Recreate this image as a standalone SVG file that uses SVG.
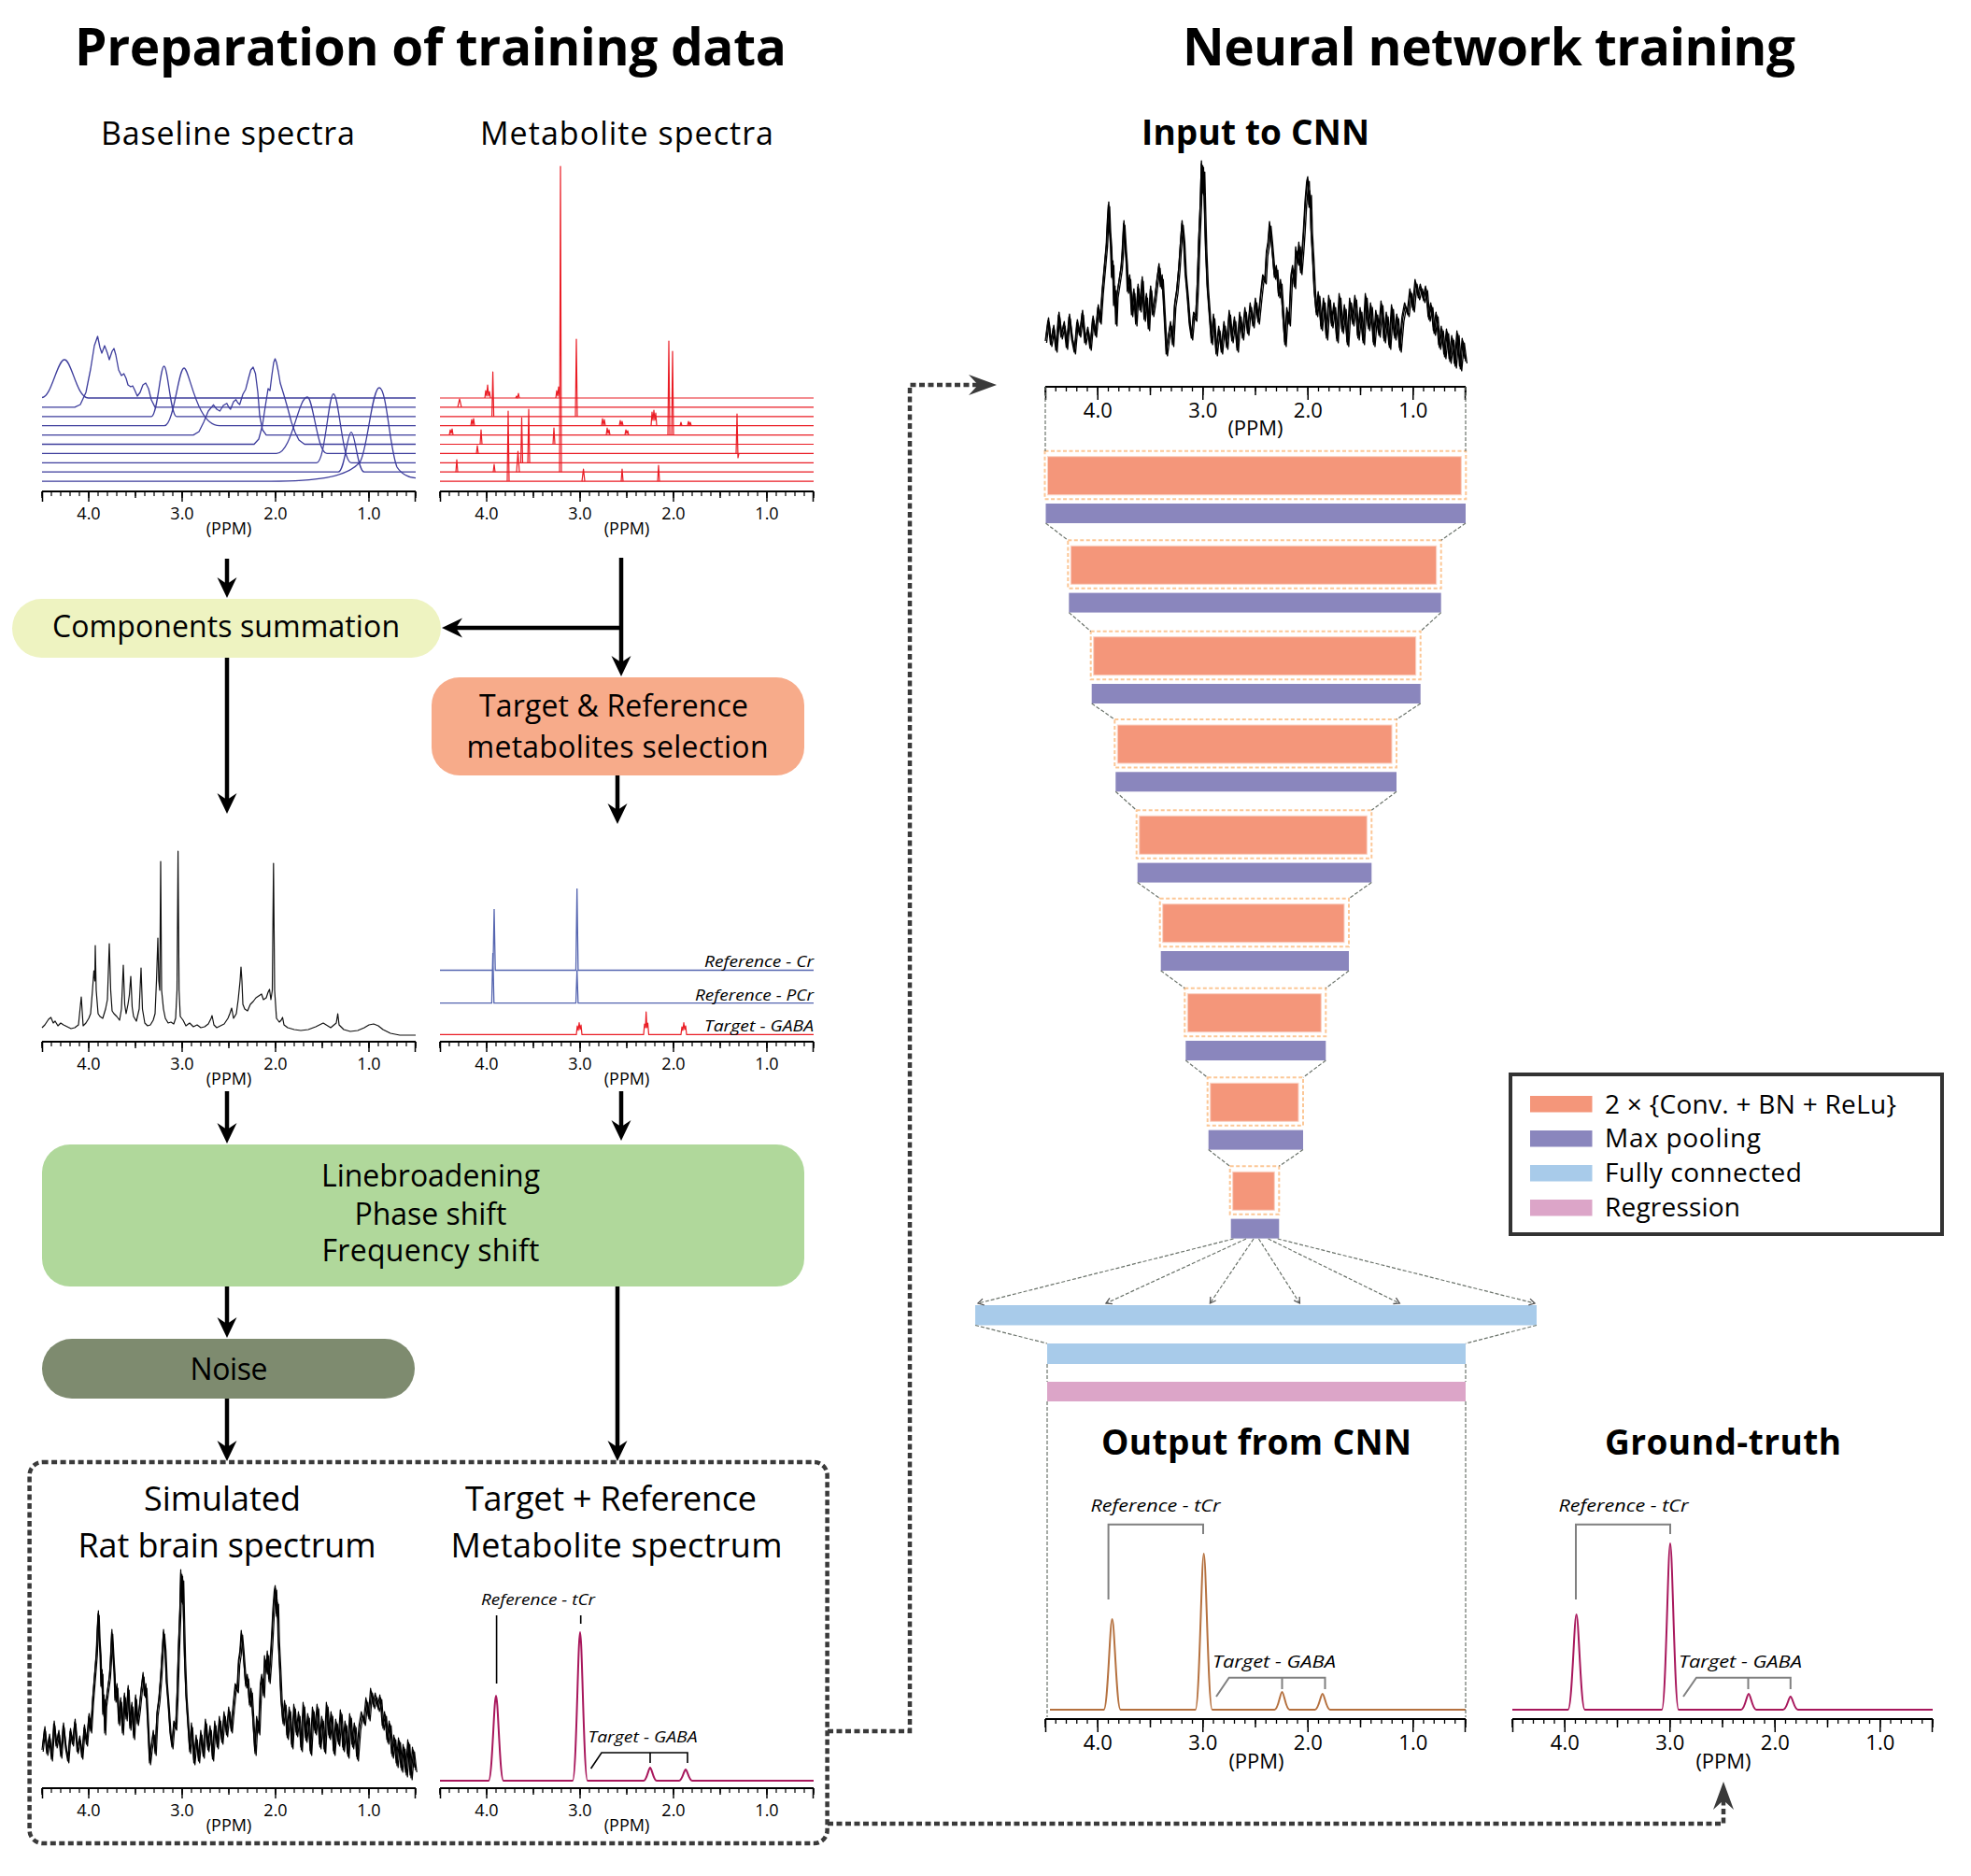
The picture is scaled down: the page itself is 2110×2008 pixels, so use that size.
<svg xmlns="http://www.w3.org/2000/svg" xmlns:xlink="http://www.w3.org/1999/xlink" width="2110" height="2008" viewBox="0 0 2110 2008">
<style>
text{font-family:"Open Sans","Liberation Sans",Arial,sans-serif;fill:#000}
.h1{font-size:55px;font-weight:700}
.h2{font-size:34px}
.h3{font-size:37px;font-weight:700;text-anchor:middle}
.bx{font-size:32px;text-anchor:middle}
.big{font-size:36px;text-anchor:middle}
.ax{font-size:18px;text-anchor:middle}
.axr{font-size:22px;text-anchor:middle}
.it{font-style:italic;font-size:17px}
.itr{font-style:italic;font-size:19px;text-anchor:middle}
.lg{font-size:28px}
.blue{fill:none;stroke:#3d3d9c;stroke-width:1.3;stroke-linejoin:round}
.red{fill:none;stroke:#ea1d25;stroke-width:1.2;stroke-linejoin:round}
.arr{fill:none;stroke:#000;stroke-width:4.5;marker-end:url(#ah)}
.dot{fill:none;stroke:#3a3a3a;stroke-width:4.5;stroke-dasharray:6 3.5}
.fan{fill:none;stroke:#6b736b;stroke-width:1.2;stroke-dasharray:4 2}
.conv{fill:#f4967a;stroke:#fbd3c4;stroke-width:1}
.cout{fill:none;stroke:#fcc796;stroke-width:2;stroke-dasharray:4 2.5}
.pool{fill:#8a86bd}
.brk{fill:none;stroke:#808080;stroke-width:2}
</style>
<defs>
<marker id="ah" viewBox="-23 -12 24 24" markerWidth="24" markerHeight="24" refX="-12" refY="0" orient="auto" markerUnits="userSpaceOnUse"><path d="M0,0 L-22,-10.5 L-15,0 L-22,10.5 Z" fill="#000"/></marker>
<marker id="ad" viewBox="-31 -12 32 24" markerWidth="32" markerHeight="24" refX="-18" refY="0" orient="auto" markerUnits="userSpaceOnUse"><path d="M0,0 L-30,-11 L-20,0 L-30,11 Z" fill="#3a3a3a"/></marker>
<marker id="af" viewBox="-8 -5 10 10" markerWidth="10" markerHeight="10" refX="0" refY="0" orient="auto" markerUnits="userSpaceOnUse"><path d="M-6,-3.5 L0,0 L-6,3.5" fill="none" stroke="#555" stroke-width="1.3"/></marker>
<g id="tkL" stroke="#000" fill="none">
<path d="M0,0 H400" stroke-width="2"/>
<path d="M-0.6,2.5 H401" stroke-width="5" stroke-dasharray="1.2 8.8"/>
<path d="M-0.7,3.5 H401" stroke-width="7" stroke-dasharray="1.4 48.6"/>
<path d="M49.3,5.5 H400" stroke-width="11" stroke-dasharray="1.4 98.6"/>
<path d="M0.5,0 V11 M399.5,0 V11" stroke-width="1.5"/>
</g>
<g id="tkR" stroke="#000" fill="none">
<path d="M0,0 H450" stroke-width="2.2"/>
<path d="M-0.65,2.5 H451" stroke-width="5" stroke-dasharray="1.3 9.95"/>
<path d="M-0.75,4.5 H451" stroke-width="9" stroke-dasharray="1.5 54.75"/>
<path d="M55.5,7 H450" stroke-width="14" stroke-dasharray="1.5 111"/>
<path d="M0.5,0 V14 M449.5,0 V14" stroke-width="1.5"/>
</g>
<path id="noisy" fill="none" stroke="#000" stroke-width="1.2" stroke-linejoin="round" d="M0,8 L2.5,-14 L5,12 L7.5,-6 L10,18 L12.5,-20 L15,4 L17.5,-10 L20,15 L22.5,-18 L25,6 L27.5,20 L30,-12 L32.5,2 L35,-22 L37.5,10 L40,-4 L42.5,16 L45,-16 L47.5,2 L50,-28 L52,-12 L54,-45 L56,-70 L58,-95 L59,-120 L60,-138 L61,-110 L62,-95 L63,-60 L64,-75 L65,-30 L66,-48 L67,-10 L68,-40 L70,-55 L72,-70 L73,-85 L74.5,-118 L76,-90 L77,-75 L78,-45 L80,-60 L82,-20 L84,-45 L86,-10 L88,-50 L90,-25 L92,-58 L94,-15 L96,-40 L98,-5 L100,-48 L102,-20 L104,-35 L106,-55 L108,-72 L109.5,-50 L111,-60 L113,-20 L115,22 L117,5 L119,-10 L121,12 L123,-30 L125,-45 L127,-70 L128.5,-95 L130,-118 L131.5,-100 L133,-65 L135,-40 L137,-10 L139,5 L141,-20 L143,-15 L144.5,-50 L146,-100 L147.5,-140 L148.5,-182 L149.5,-150 L150.5,-175 L151.5,-130 L152.5,-90 L154,-50 L156,-20 L158,10 L160,-18 L162.5,22 L165,-5 L167.5,20 L170,-10 L172.5,15 L175,-22 L177.5,8 L180,-15 L182.5,18 L185,-20 L187.5,5 L190,-25 L192.5,0 L195,-30 L197.5,-8 L200,-35 L202.5,-12 L205,-40 L207,-60 L209,-55 L210.5,-85 L212,-95 L213.5,-117 L215,-100 L216.5,-80 L218,-60 L220,-70 L222,-40 L224,-55 L226,-20 L228,12 L230,-25 L232,-10 L234,-60 L235.5,-70 L237,-50 L238.5,-90 L240,-75 L241.5,-95 L243,-65 L244.5,-85 L246,-110 L247.5,-140 L249,-160 L250,-165 L251,-135 L252,-150 L253,-110 L254.5,-80 L256,-45 L258,-20 L260,-42 L262.5,-5 L265,-35 L267.5,5 L270,-38 L272.5,-8 L275,-30 L277.5,8 L280,-40 L282.5,-2 L285,-28 L287.5,12 L290,-35 L292.5,-10 L295,-38 L297.5,5 L300,-25 L302.5,10 L305,-40 L307.5,-5 L310,-30 L312.5,12 L315,-22 L317.5,2 L320,-32 L322.5,8 L325,-20 L327.5,15 L330,-28 L332.5,5 L335,-18 L337.5,18 L340,-15 L342.5,-30 L345,-20 L347.5,-45 L350,-25 L352.5,-55 L355,-38 L357.5,-50 L360,-35 L362.5,-48 L365,-15 L367.5,-30 L370,0 L372.5,-20 L375,15 L377.5,-5 L380,25 L382.5,-2 L385,30 L387.5,5 L390,35 L392.5,0 L395,38 L397.5,8 L400,30"/>
</defs>
<rect x="0" y="0" width="2110" height="2008" fill="#fff"/>

<g id="titles">
<text class="h1" x="80" y="70" textLength="762">Preparation of training data</text>
<text class="h1" x="1266" y="70" textLength="656">Neural network training</text>
</g>

<g id="baseline-spectra">
<text class="h2" x="108" y="155" textLength="272">Baseline spectra</text>
<path class="blue" d="M45,425.5 C55,425.5 61.3,385 69,385 C76.7,385 82,426 94.5,426 H445"/>
<path class="blue" d="M45,435.9 H80 L86,433 L92,420 L97,395 L101,370 L104.5,360 L107,372 L109,378 L112,370 L115,378 L117,385 L120,376 L122,373 L124,380 L127,396 L130,402 L132.6,400 L135,405 L137,412 L140,414 L142,413 L144,417 L147,424 L150,420 L153,412 L156,410 L159,416 L162,428 L166,435.9 H445"/>
<path class="blue" d="M45,445.8 H162 C168.5,445.8 171.5,392 175.6,392 C179.7,392 182.7,445.8 189,445.8 H445"/>
<path class="blue" d="M45,455.7 H176 C186,455.7 191,394 197,394 C203,394 210,455.7 235,455.7 H445"/>
<path class="blue" d="M45,465.6 H207 L213,462 L218,452 L223,440 L228.5,433.3 L232,438 L235.4,440 L239,434 L242.8,431.7 L245,436 L246.8,438 L250,430 L252.6,427.7 L254.5,431 L256.6,433 L260,422 L263,416.7 L266,405 L268.5,396 L271,393 L273.5,400 L276,420 L278,445 L281,460 L285,465.6 H445"/>
<path class="blue" d="M45,475.5 H272 L277,470 L281,455 L284,435 L287,416 L289,418 L291,402 L293,388 L294.5,384 L296,388 L298,398 L300,410 L304,423 L308,437 L312,452 L316,463 L320,471 L326,475.5 H445"/>
<path class="blue" d="M45,485.4 H296 C312.5,485.4 319,425 329,425 C335.3,425 339.5,485.4 350,485.4 H445"/>
<path class="blue" d="M45,495.3 H339 C348,495.3 351.6,421.7 357,421.7 C362.7,421.7 366.5,495.3 376,495.3 H445"/>
<path class="blue" d="M45,505.2 H362 C369,505.2 371.8,462.7 376,462.7 C380.2,462.7 383,505.2 390,505.2 H445"/>
<path class="blue" d="M45,515.1 H290 C335,515.1 370,512 385,495 C393,486 398,415 406,415 C414,415 417,480 425,500 C430,508 438,511 445,511.7"/>
<use href="#tkL" x="45" y="526"/>
<text class="ax" x="95" y="556">4.0</text><text class="ax" x="195" y="556">3.0</text><text class="ax" x="295" y="556">2.0</text><text class="ax" x="395" y="556">1.0</text>
<text class="ax" x="245" y="572" font-size="17">(PPM)</text>
</g>

<g id="metabolite-spectra">
<text class="h2" x="514" y="155" textLength="314">Metabolite spectra</text>
<path class="red" d="M471,426 H871 M471,435.9 H871 M471,445.8 H871 M471,455.7 H871 M471,465.6 H871 M471,475.5 H871 M471,485.4 H871 M471,495.3 H871 M471,505.2 H871 M471,515.1 H871"/>
<path class="red" d="M519,426 L520,418 L521,424 L522,412 L523,424 L524,419 L525,426 M552,426 L553,424 L554,426 L555,421 L556,426 M595,426 L596,418 L597,424 L598,414 L599,426
M490,435.9 L492,427 L494,435.9
M526.6,445.8 L527.6,398 L528.6,445.8 M616,445.8 L617,363 L618,445.8
M504,455.7 L505,449 L506,455 L507,448 L508,455.7 M644,455.7 L645,448 L646,455 L647,449 L648,455.7 M663,455.7 L664,450 L665,455 L666,451 L667,455.7 M697,455.7 L698,441 L699,450 L700,439 L701,450 L702,442 L703,455.7 M728,455.7 L729,452 L730,455.7 M736,455.7 L737,451 L738,455 L739,452 L740,455.7
M481,465.6 L482,460 L483,464 L484,459 L485,465.6 M649,465.6 L650,458 L651,464 L652,460 L653,465.6 M669,465.6 L670,460 L671,464 L672,461 L673,465.6 M715,465.6 L716,365 L717,465.6 M719,465.6 L720,376 L721,465.6
M514,475.5 L515,460 L516,475.5 M592,475.5 L593,458 L594,475.5
M510,485.4 L511,477 L512,485.4 M788,485.4 L789,443 L790,490 L791,485.4
M557.5,495.3 L558.5,447 L559.5,495.3 M565,495.3 L566,438 L567,495.3
M599,505.2 L600,178 L601,505.2 M488,505.2 L489,492 L490,505.2 M528,505.2 L529,497 L530,505.2 M553,505.2 L554.5,483 L556,505.2
M543,515.1 L544,440 L545,515.1 M623,515.1 L624.6,502 L626,515.1 M665,515.1 L666,502 L667,515.1 M704,515.1 L705,498 L706,515.1"/>
<use href="#tkL" x="471" y="526"/>
<text class="ax" x="521" y="556">4.0</text><text class="ax" x="621" y="556">3.0</text><text class="ax" x="721" y="556">2.0</text><text class="ax" x="821" y="556">1.0</text>
<text class="ax" x="671" y="572" font-size="17">(PPM)</text>
</g>

<g id="components-summation">
<rect x="13" y="641" width="459" height="63" rx="31.5" fill="#eef3c1"/>
<text class="bx" x="242" y="682" textLength="372">Components summation</text>
</g>

<g id="target-reference-selection">
<rect x="462" y="725" width="399" height="105" rx="30" fill="#f7ab8a"/>
<text class="bx" x="657" y="767" textLength="288">Target &amp; Reference</text>
<text class="bx" x="661" y="811" textLength="323">metabolites selection</text>
</g>

<g id="summed-spectrum">
<polyline fill="none" stroke="#111" stroke-width="1.2" stroke-linejoin="round" points="45,1100 48,1097 50,1094 52,1091 54.5,1089 57,1095 59,1093 62,1098 65,1095 68,1097 72,1099 76,1101 80,1100 84,1097 87,1067 89,1098 92,1095 95,1090 97,1085 99,1060 100.5,1039 101.5,1050 102,1012 103,1060 105,1085 107,1088 110,1090 113,1080 115,1070 117,1010 118.5,1060 120,1082 122,1085 125,1088 128,1092 130,1080 132,1033 133.5,1075 135,1085 137,1075 138.5,1065 140,1045 141.5,1078 143,1088 146,1093 149,1080 151,1036 152.5,1080 155,1095 158,1098 161,1097 164,1092 166,1085 167.5,1050 169,1004 170,1050 171,1060 172,922 173,1060 175,1080 177,1090 180,1095 183,1094 186,1096 188,1090 189.5,1060 190.6,911 191.7,1060 193,1088 196,1092 199,1098 203,1095 207,1099 211,1097 215,1100 219,1099 223,1096 226,1090 227,1087 229,1097 232,1100 236,1098 240,1096 244,1090 246,1085 248,1079 250,1090 253,1085 255,1070 257,1050 258,1035 259,1050 260,1075 262,1080 265,1082 268,1075 271,1072 274,1068 277,1066 280,1064 282,1070 285,1068 287,1062 288.5,1059 290,1070 291.5,1060 292.8,924 294,1060 296,1090 299,1094 301,1092 302.5,1089 304,1097 308,1100 315,1102 322,1103 330,1102 338,1099 346,1095 354,1100 360,1095 361.6,1085 363,1097 368,1102 375,1104 383,1103 390,1100 395,1097 400,1096 405,1098 410,1102 418,1106 428,1108 445,1108"/>
<use href="#tkL" x="45" y="1115"/>
<text class="ax" x="95" y="1145">4.0</text><text class="ax" x="195" y="1145">3.0</text><text class="ax" x="295" y="1145">2.0</text><text class="ax" x="395" y="1145">1.0</text>
<text class="ax" x="245" y="1161" font-size="17">(PPM)</text>
</g>

<g id="selected-metabolites">
<path fill="none" stroke="#5565b0" stroke-width="1.3" d="M471,1038.5 H527.8 L529,973 L530.2,1038.5 H616.5 L617.7,951 L618.9,1038.5 H871 M471,1073.7 H526.4 L527.6,1020 L528.8,1073.7 H616.5 L617.7,1038.5 L618.9,1073.7 H871"/>
<path class="red" d="M471,1107.4 H617 L618,1098 L619,1103 L620,1094.7 L621,1102 L622,1097 L623,1107.4 H689 L690,1096 L691,1100 L691.7,1083 L692.5,1100 L693.5,1095 L694.5,1107.4 H729 L730,1099 L731,1103 L732,1094.7 L733,1102 L734,1098 L735,1107.4 H871"/>
<text class="it" x="871" y="1035" text-anchor="end" textLength="117" lengthAdjust="spacingAndGlyphs">Reference - Cr</text>
<text class="it" x="871" y="1071" text-anchor="end" textLength="127" lengthAdjust="spacingAndGlyphs">Reference - PCr</text>
<text class="it" x="871" y="1104" text-anchor="end" textLength="117" lengthAdjust="spacingAndGlyphs">Target - GABA</text>
<use href="#tkL" x="471" y="1115"/>
<text class="ax" x="521" y="1145">4.0</text><text class="ax" x="621" y="1145">3.0</text><text class="ax" x="721" y="1145">2.0</text><text class="ax" x="821" y="1145">1.0</text>
<text class="ax" x="671" y="1161" font-size="17">(PPM)</text>
</g>

<g id="augmentation">
<rect x="45" y="1225" width="816" height="152" rx="30" fill="#b0d89b"/>
<text class="bx" x="461" y="1270" textLength="234">Linebroadening</text>
<text class="bx" x="461" y="1311" textLength="163">Phase shift</text>
<text class="bx" x="461" y="1350" textLength="233">Frequency shift</text>
</g>

<g id="noise">
<rect x="45" y="1433" width="399" height="64" rx="32" fill="#7e8b6f"/>
<text class="bx" x="245" y="1477" textLength="83">Noise</text>
</g>

<g id="training-pair">
<rect x="31.6" y="1565" width="854" height="408" rx="14" class="dot"/>
<text class="big" x="238" y="1617" textLength="168">Simulated</text>
<text class="big" x="243" y="1667" textLength="319">Rat brain spectrum</text>
<text class="big" x="654" y="1617" textLength="312">Target + Reference</text>
<text class="big" x="660" y="1667" textLength="355">Metabolite spectrum</text>
<use href="#noisy" transform="translate(45,1865)"/>
<use href="#noisy" transform="translate(46.2,1867)"/>
<use href="#noisy" transform="translate(45.6,1862) scale(0.996,1)"/>
<use href="#tkL" x="45" y="1914"/>
<text class="ax" x="95" y="1944">4.0</text><text class="ax" x="195" y="1944">3.0</text><text class="ax" x="295" y="1944">2.0</text><text class="ax" x="395" y="1944">1.0</text>
<text class="ax" x="245" y="1960" font-size="17">(PPM)</text>
<path fill="none" stroke="#a8175c" stroke-width="2" d="M471,1906 H523 C527,1906 528.8,1815 531,1815 C533.2,1815 535,1906 539,1906 H613 C617,1906 618.8,1747 621,1747 C623.2,1747 625,1906 629,1906 H689 C692.5,1906 694.3,1892 696,1892 C697.7,1892 699.5,1906 703,1906 H727 C730.5,1906 732.3,1894 734,1894 C735.7,1894 737.5,1906 741,1906 H871"/>
<text class="it" x="576" y="1718" text-anchor="middle" textLength="122" lengthAdjust="spacingAndGlyphs">Reference - tCr</text>
<path fill="none" stroke="#000" stroke-width="1.6" d="M531.6,1729 V1802 M621.7,1729 V1738 M632.6,1893 L644,1876 H736 V1887 M696,1876 V1887"/>
<text class="it" x="688" y="1865" text-anchor="middle" textLength="117" lengthAdjust="spacingAndGlyphs">Target - GABA</text>
<use href="#tkL" x="471" y="1914"/>
<text class="ax" x="521" y="1944">4.0</text><text class="ax" x="621" y="1944">3.0</text><text class="ax" x="721" y="1944">2.0</text><text class="ax" x="821" y="1944">1.0</text>
<text class="ax" x="671" y="1960" font-size="17">(PPM)</text>
</g>

<g id="input-to-cnn">
<text class="h3" x="1344" y="155" textLength="244">Input to CNN</text>
<use href="#noisy" transform="translate(1119,357) scale(1.125,1)"/>
<use href="#noisy" transform="translate(1120.4,359) scale(1.125,1)"/>
<use href="#noisy" transform="translate(1119.7,354) scale(1.121,1)"/>
<use href="#tkR" x="1119" y="414"/>
<text class="axr" x="1175.3" y="447">4.0</text><text class="axr" x="1287.8" y="447">3.0</text><text class="axr" x="1400.3" y="447">2.0</text><text class="axr" x="1512.8" y="447">1.0</text>
<text class="axr" x="1344" y="466" font-size="21">(PPM)</text>
</g>

<g id="cnn-layers">
<g id="block1"><rect class="cout" x="1118.5" y="482.7" width="450.8" height="51.5"/><rect class="conv" x="1121.5" y="488.7" width="442.8" height="41"/><rect class="pool" x="1119.5" y="539" width="449.5" height="21"/></g>
<g id="block2"><rect class="cout" x="1143.3" y="578.3" width="399.4" height="51.5"/><rect class="conv" x="1146.3" y="584.3" width="391.4" height="41"/><rect class="pool" x="1144.3" y="634.6" width="398.4" height="21"/></g>
<g id="block3"><rect class="cout" x="1167.7" y="675.7" width="353" height="51.5"/><rect class="conv" x="1170.7" y="681.7" width="345" height="41"/><rect class="pool" x="1168.7" y="732" width="352" height="21"/></g>
<g id="block4"><rect class="cout" x="1193.3" y="770" width="301.7" height="51.5"/><rect class="conv" x="1196.3" y="776" width="293.7" height="41"/><rect class="pool" x="1194.3" y="826.3" width="300.7" height="21"/></g>
<g id="block5"><rect class="cout" x="1216.7" y="867.3" width="251.6" height="51.5"/><rect class="conv" x="1219.7" y="873.3" width="243.6" height="41"/><rect class="pool" x="1217.7" y="923.6" width="250.6" height="21"/></g>
<g id="block6"><rect class="cout" x="1241.7" y="961.7" width="202.3" height="51.5"/><rect class="conv" x="1244.7" y="967.7" width="194.3" height="41"/><rect class="pool" x="1242.7" y="1018" width="201.3" height="21"/></g>
<g id="block7"><rect class="cout" x="1268.3" y="1057.7" width="151" height="51.5"/><rect class="conv" x="1271.3" y="1063.7" width="143" height="41"/><rect class="pool" x="1269.3" y="1114" width="150" height="21"/></g>
<g id="block8"><rect class="cout" x="1292.7" y="1153.3" width="102.3" height="51.5"/><rect class="conv" x="1295.7" y="1159.3" width="94.3" height="41"/><rect class="pool" x="1293.7" y="1209.6" width="101.3" height="21"/></g>
<g id="block9"><rect class="cout" x="1316.7" y="1248.3" width="52.6" height="51.5"/><rect class="conv" x="1319.7" y="1254.3" width="44.6" height="41"/><rect class="pool" x="1317.7" y="1304.6" width="51.6" height="21"/></g>
<g id="fc1"><rect x="1044" y="1397" width="601" height="21.5" fill="#a8cbea"/></g>
<g id="fc2"><rect x="1121" y="1438" width="448" height="22" fill="#a8cbea"/></g>
<g id="regression"><rect x="1121" y="1479" width="448" height="21" fill="#dca5c8"/></g>
</g>

<g id="legend">
<rect x="1617" y="1150" width="462" height="171" fill="#fff" stroke="#333" stroke-width="4"/>
<rect x="1638" y="1173" width="66.5" height="17.5" fill="#f4967a"/>
<rect x="1638" y="1210" width="66.5" height="17.5" fill="#8a86bd"/>
<rect x="1638" y="1247" width="66.5" height="17.5" fill="#a8cbea"/>
<rect x="1638" y="1284" width="66.5" height="17.5" fill="#dca5c8"/>
<text class="lg" x="1718" y="1192" textLength="312">2 × {Conv. + BN + ReLu}</text>
<text class="lg" x="1718" y="1228" textLength="167">Max pooling</text>
<text class="lg" x="1718" y="1265" textLength="211">Fully connected</text>
<text class="lg" x="1718" y="1302" textLength="145">Regression</text>
</g>

<g id="output-from-cnn">
<text class="h3" x="1345" y="1557" textLength="332">Output from CNN</text>
<path fill="none" stroke="#b5713f" stroke-width="2" d="M1124,1830 H1181.6 C1186,1830 1188.2,1733 1190.6,1733 C1193,1733 1195.2,1830 1199.6,1830 H1279.7 C1284,1830 1286.3,1663 1288.7,1663 C1291.1,1663 1293.4,1830 1297.7,1830 H1364.5 C1368.5,1830 1370.5,1811 1372.5,1811 C1374.5,1811 1376.5,1830 1380.5,1830 H1407.8 C1411.8,1830 1413.8,1813 1415.8,1813 C1417.8,1813 1419.8,1830 1423.8,1830 H1569"/>
<text class="itr" x="1237" y="1618" textLength="139" lengthAdjust="spacingAndGlyphs">Reference - tCr</text>
<path class="brk" d="M1186.6,1712 V1631.7 H1288 V1642"/>
<text class="itr" x="1364" y="1785" textLength="132" lengthAdjust="spacingAndGlyphs">Target - GABA</text>
<path class="brk" d="M1302,1816 L1315.7,1795.7 H1418.5 V1808 M1372.5,1795.7 V1808"/>
<use href="#tkR" x="1119" y="1840"/>
<text class="axr" x="1175.3" y="1873">4.0</text><text class="axr" x="1287.8" y="1873">3.0</text><text class="axr" x="1400.3" y="1873">2.0</text><text class="axr" x="1512.8" y="1873">1.0</text>
<text class="axr" x="1345" y="1893" font-size="21">(PPM)</text>
</g>

<g id="ground-truth">
<text class="h3" x="1844.5" y="1557" textLength="253">Ground-truth</text>
<path fill="none" stroke="#a8175c" stroke-width="2" d="M1619,1830 H1678.6 C1683,1830 1685.2,1728 1687.6,1728 C1690,1728 1692.2,1830 1696.6,1830 H1779 C1783.3,1830 1785.6,1652 1788,1652 C1790.4,1652 1792.7,1830 1797,1830 H1864 C1868,1830 1870,1813 1872,1813 C1874,1813 1876,1830 1880,1830 H1908.8 C1912.8,1830 1914.8,1816 1916.8,1816 C1918.8,1816 1920.8,1830 1924.8,1830 H2069"/>
<text class="itr" x="1738" y="1618" textLength="139" lengthAdjust="spacingAndGlyphs">Reference - tCr</text>
<path class="brk" d="M1687,1712 V1631.7 H1788 V1642"/>
<text class="itr" x="1863" y="1785" textLength="132" lengthAdjust="spacingAndGlyphs">Target - GABA</text>
<path class="brk" d="M1802,1816 L1816,1795.7 H1916.8 V1808 M1871.5,1795.7 V1808"/>
<use href="#tkR" x="1619" y="1840"/>
<text class="axr" x="1675.3" y="1873">4.0</text><text class="axr" x="1787.8" y="1873">3.0</text><text class="axr" x="1900.3" y="1873">2.0</text><text class="axr" x="2012.8" y="1873">1.0</text>
<text class="axr" x="1845" y="1893" font-size="21">(PPM)</text>
</g>

<g id="connectors">
<path class="arr" d="M243,598 V628"/>
<path class="arr" d="M665,597 V712"/>
<path class="arr" d="M665,672 H485"/>
<path class="arr" d="M243,704 V859"/>
<path class="arr" d="M661,830 V870"/>
<path class="arr" d="M243,1168 V1212"/>
<path class="arr" d="M665,1168 V1209"/>
<path class="arr" d="M243,1377 V1420"/>
<path class="arr" d="M661,1377 V1552"/>
<path class="arr" d="M243,1497 V1552"/>
<path class="dot" d="M886,1853 H974 V412 H1049" marker-end="url(#ad)"/>
<path class="dot" d="M886,1952 H1845 V1925" marker-end="url(#ad)"/>
<path class="fan" d="M1119,414 V483 M1569,414 V483"/>
<path class="fan" d="M1119.5,560 L1143.3,578.3 M1569,560 L1542.7,578.3 M1144.3,655.6 L1167.7,675.7 M1542.7,655.6 L1520.7,675.7 M1168.7,753 L1193.3,770 M1520.7,753 L1495,770 M1194.3,847.3 L1216.7,867.3 M1495,847.3 L1468.3,867.3 M1217.7,944.6 L1241.7,961.7 M1468.3,944.6 L1444,961.7 M1242.7,1039 L1268.3,1057.7 M1444,1039 L1419.3,1057.7 M1269.3,1135 L1292.7,1153.3 M1419.3,1135 L1395,1153.3 M1293.7,1230.6 L1316.7,1248.3 M1395,1230.6 L1369.3,1248.3"/>
<path class="fan" d="M1320.5,1326 L1047,1395" marker-end="url(#af)"/>
<path class="fan" d="M1334,1326 L1184,1395" marker-end="url(#af)"/>
<path class="fan" d="M1342,1326 L1295.4,1395" marker-end="url(#af)"/>
<path class="fan" d="M1347.5,1326 L1391.4,1395" marker-end="url(#af)"/>
<path class="fan" d="M1357.6,1326 L1498.3,1395" marker-end="url(#af)"/>
<path class="fan" d="M1367.8,1326 L1643,1395" marker-end="url(#af)"/>
<path class="fan" d="M1044,1418.5 L1121,1438 M1645,1418.5 L1569,1438 M1121,1460 V1479 M1569,1460 V1479 M1121,1500 V1838 M1569,1500 V1838"/>
</g>
</svg>
